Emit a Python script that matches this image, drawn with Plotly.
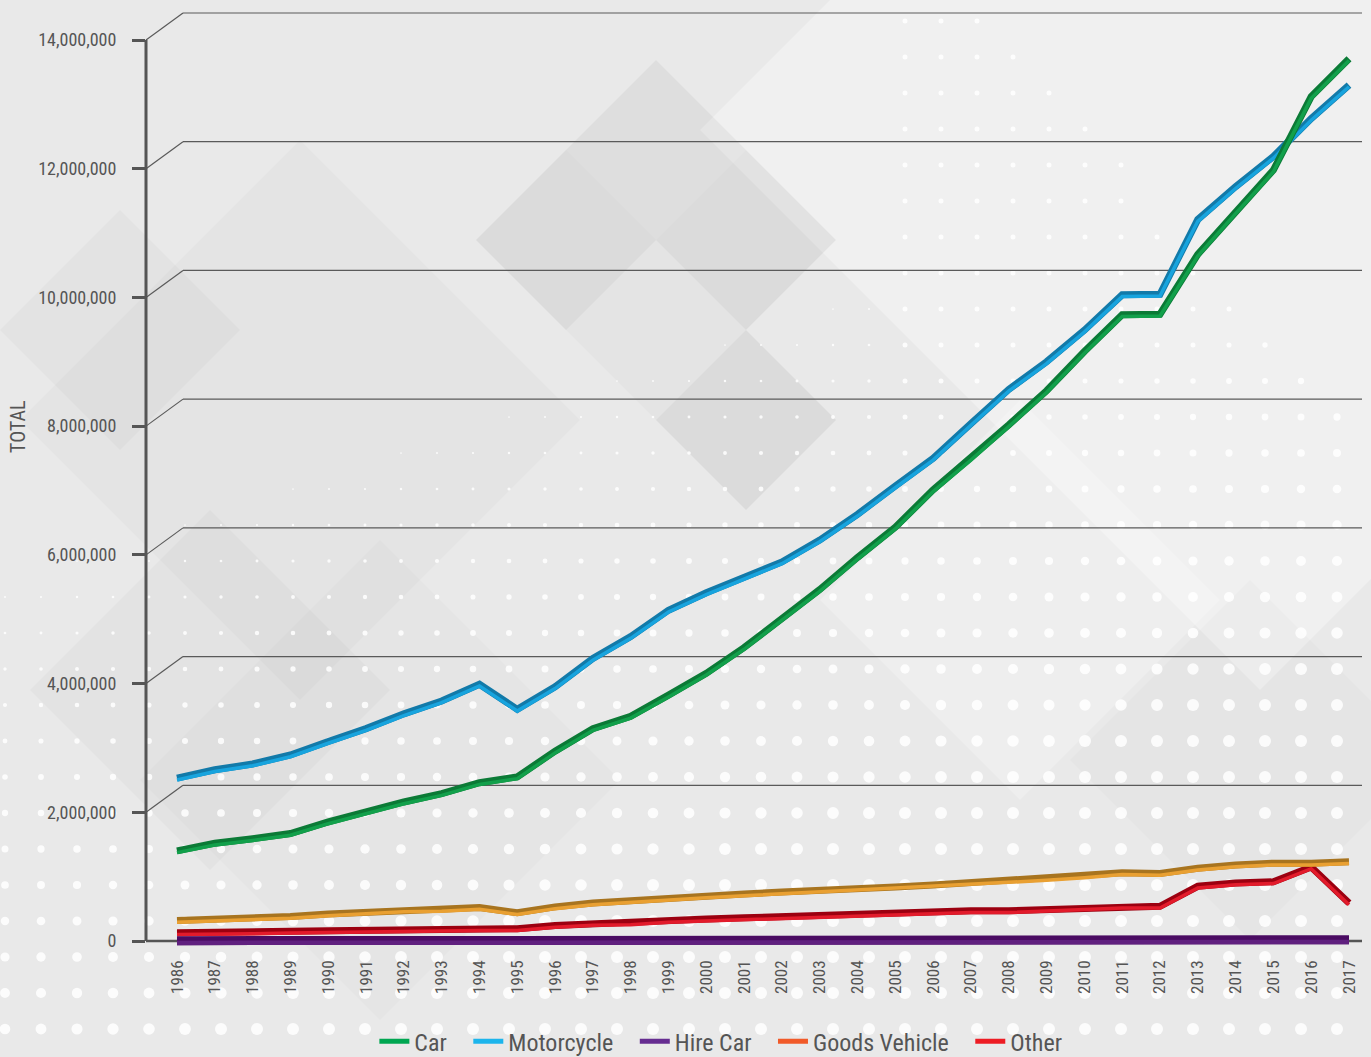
import plotly.graph_objects as go

# ---------------- data ----------------
years = [1986, 1987, 1988, 1989, 1990, 1991, 1992, 1993, 1994, 1995, 1996,
         1997, 1998, 1999, 2000, 2001, 2002, 2003, 2004, 2005, 2006, 2007,
         2008, 2009, 2010, 2011, 2012, 2013, 2014, 2015, 2016, 2017]

car = [1400000, 1520000, 1590000, 1670000, 1850000, 2010000, 2160000, 2290000,
       2460000, 2550000, 2950000, 3300000, 3490000, 3820000, 4160000, 4560000,
       5010000, 5460000, 5960000, 6430000, 7010000, 7500000, 8020000, 8550000,
       9160000, 9730000, 9740000, 10670000, 11330000, 11980000, 13120000, 13710000]

motorcycle = [2530000, 2660000, 2750000, 2890000, 3100000, 3300000, 3530000, 3730000,
              3990000, 3600000, 3950000, 4390000, 4730000, 5140000, 5410000, 5650000,
              5890000, 6230000, 6630000, 7070000, 7500000, 8040000, 8570000, 9000000,
              9490000, 10040000, 10050000, 11210000, 11720000, 12190000, 12780000, 13300000]

hire_car = [5000, 5000, 6000, 6000, 7000, 7000, 8000, 8000, 9000, 9000, 10000,
            10000, 11000, 11000, 12000, 12000, 13000, 13000, 14000, 14000, 15000, 15000,
            16000, 16000, 17000, 17000, 18000, 18000, 19000, 19000, 20000, 20000]

goods_vehicle = [320000, 340000, 350000, 380000, 420000, 450000, 480000, 490000,
                 520000, 440000, 530000, 590000, 630000, 660000, 700000, 730000,
                 760000, 780000, 810000, 840000, 870000, 910000, 940000, 970000,
                 1010000, 1060000, 1050000, 1130000, 1180000, 1210000, 1210000, 1230000]

other = [130000, 130000, 140000, 150000, 160000, 170000, 180000, 180000,
         190000, 190000, 240000, 270000, 280000, 320000, 340000, 360000,
         380000, 400000, 410000, 430000, 450000, 470000, 470000, 490000,
         510000, 540000, 540000, 850000, 900000, 920000, 1150000, 590000]

series_names = ["Car", "Motorcycle", "Hire Car", "Goods Vehicle", "Other"]
series_values = [car, motorcycle, hire_car, goods_vehicle, other]
legend_colors = ["#00a651", "#1cb5ec", "#662d91", "#f15a29", "#ed1c24"]
dark_colors = ["#0b7a36", "#127aa9", "#4a0b62", "#a8741f", "#9c0010"]
light_colors = ["#12a04b", "#18a4de", "#60207f", "#e9a032", "#e21b2b"]
line_widths = [7, 7, 9, 7, 7]

y_ticks = [0, 2000000, 4000000, 6000000, 8000000, 10000000, 12000000, 14000000]

# ---------------- geometry ----------------
W, H = 1371, 1057
ML, MR, MT, MB = 146, 9, 5, 107
PW, PH = W - ML - MR, H - MT - MB
PX_PER_UNIT = 901 / 14e6
Y_HI = (941 - MT) / PX_PER_UNIT
Y_LO = -((H - MB) - 941) / PX_PER_UNIT
PX_PER_YEAR = (1349 - 177) / 31
X_LO = 1986 - (177 - ML) / PX_PER_YEAR
X_HI = 2017 + ((W - MR) - 1349) / PX_PER_YEAR
DEPTH_X, DEPTH_Y = 37, 27
BG = "#e9e9e9"


def px2paper(px, py):
    return (px - ML) / PW, ((H - MB) - py) / PH


fig = go.Figure()

# draw order: Other, Goods Vehicle, Hire Car, Motorcycle, Car (car on top)
draw_order = [4, 3, 2, 1, 0]
axis_idx = 2
layout_axes = {}
for si in draw_order:
    for kind in ("dark", "light"):
        if kind == "dark":
            col, w, shift = dark_colors[si], line_widths[si], 0.0
        else:
            col, w = light_colors[si], line_widths[si] / 2
            shift = (line_widths[si] / 4) / PX_PER_UNIT
        fig.add_trace(go.Scatter(
            x=years, y=series_values[si], mode="lines",
            line=dict(color=col, width=w), yaxis=f"y{axis_idx}",
            showlegend=False, hoverinfo="skip"))
        layout_axes[f"yaxis{axis_idx}"] = dict(
            overlaying="y", range=[Y_LO + shift, Y_HI + shift],
            visible=False, showgrid=False, zeroline=False)
        axis_idx += 1

# legend entries
for name, col in zip(series_names, legend_colors):
    fig.add_trace(go.Scatter(x=[None], y=[None], mode="lines", name=name + "\u00a0\u00a0\u00a0",
                             line=dict(color=col, width=5), showlegend=True))

shapes = []

# background decoration: diamonds
diamonds = [
    (1260, 130, 560, "rgba(255,255,255,0.32)"),
    (300, 420, 280, "rgba(0,0,0,0.02)"),
    (656, 240, 180, "rgba(0,0,0,0.02)"),
    (566, 240, 90, "rgba(0,0,0,0.04)"),
    (746, 240, 90, "rgba(0,0,0,0.035)"),
    (656, 150, 90, "rgba(0,0,0,0.025)"),
    (746, 420, 90, "rgba(0,0,0,0.06)"),
    (210, 690, 180, "rgba(0,0,0,0.025)"),
    (120, 330, 120, "rgba(0,0,0,0.025)"),
    (380, 780, 240, "rgba(0,0,0,0.015)"),
    (1020, 600, 200, "rgba(255,255,255,0.22)"),
    (1250, 760, 180, "rgba(0,0,0,0.015)"),
]
for cx, cy, hd, fc in diamonds:
    pts = [px2paper(cx - hd, cy), px2paper(cx, cy - hd), px2paper(cx + hd, cy), px2paper(cx, cy + hd)]
    path = "M " + " L ".join(f"{a:.5f},{b:.5f}" for a, b in pts) + " Z"
    shapes.append(dict(type="path", path=path, xref="paper", yref="paper",
                       fillcolor=fc, line=dict(width=0), layer="below"))

# background decoration: dot grid
for gx in range(5, W, 36):
    for gy in range(21, H, 36):
        if gx > 1000 and gy < 90 + 1.05 * (gx - 1050):
            continue
        r = 0.2 + (gy - 420) / 100 + (gx - 300) / 300
        if gx >= 880 and gy < 420:
            r = max(r, 2.5)
        r = min(r, 6.0)
        if r < 0.8:
            continue
        xp, yp = px2paper(gx, gy)
        shapes.append(dict(type="circle", xref="paper", yref="paper",
                           xsizemode="pixel", ysizemode="pixel", xanchor=xp, yanchor=yp,
                           x0=-r, x1=r, y0=-r, y1=r,
                           fillcolor="rgba(255,255,255,0.85)", line=dict(width=0), layer="below"))

# perspective grid lines (back wall)
for v in y_ticks[1:]:
    shapes.append(dict(type="line", xref="paper", yref="y", x0=0, x1=DEPTH_X / PW,
                       ysizemode="pixel", yanchor=v, y0=0, y1=DEPTH_Y,
                       line=dict(color="#5a5a5a", width=1.2), layer="below"))
    shapes.append(dict(type="line", xref="paper", yref="y", x0=DEPTH_X / PW, x1=1,
                       ysizemode="pixel", yanchor=v, y0=DEPTH_Y, y1=DEPTH_Y,
                       line=dict(color="#5a5a5a", width=1.2), layer="below"))

# axis lines
shapes.append(dict(type="line", xref="paper", yref="y", x0=0, x1=0, y0=0, y1=14e6,
                   line=dict(color="#555555", width=3), layer="below"))
shapes.append(dict(type="line", xref="paper", yref="y", x0=0, x1=1, y0=0, y1=0,
                   line=dict(color="#555555", width=2.5), layer="below"))

FONT = "Liberation Sans Narrow, Arial Narrow, Roboto Condensed, Roboto, sans-serif"

tx, ty = px2paper(18, 427)
fig.update_layout(
    width=W, height=H,
    margin=dict(l=ML, r=MR, t=MT, b=MB, pad=0),
    paper_bgcolor=BG, plot_bgcolor="rgba(0,0,0,0)",
    font=dict(family=FONT, color="#555555"),
    hovermode=False,
    xaxis=dict(range=[X_LO, X_HI], tickvals=years, ticktext=[str(y) for y in years],
               tickangle=-90, showgrid=False, zeroline=False, showline=False, ticks="",
               tickfont=dict(size=17, color="#555555", family=FONT), ticklabelstandoff=6),
    yaxis=dict(range=[Y_LO, Y_HI], tickvals=y_ticks, tickformat=",",
               showgrid=False, zeroline=False, showline=False,
               ticks="outside", ticklen=13, tickwidth=3, tickcolor="#555555",
               tickfont=dict(size=18, color="#555555", family=FONT), ticklabelstandoff=12),
    legend=dict(orientation="h", xref="container", yref="container",
                x=0.532, xanchor="center", y=0.0145, yanchor="middle",
                font=dict(size=24, color="#555555", family=FONT),
                bgcolor="rgba(0,0,0,0)", itemclick=False, itemdoubleclick=False),
    shapes=shapes,
    annotations=[dict(text="TOTAL", xref="paper", yref="paper", x=tx, y=ty,
                      textangle=-90, showarrow=False, xanchor="center", yanchor="middle",
                      font=dict(size=20, color="#555555", family=FONT))],
    **layout_axes,
)

fig.write_html(
    "out.html",
    config={"displayModeBar": False, "responsive": False},
    post_script=("document.body.style.margin='0';"
                 "document.body.style.overflow='hidden';"
                 f"document.body.style.background='{BG}';"),
)
